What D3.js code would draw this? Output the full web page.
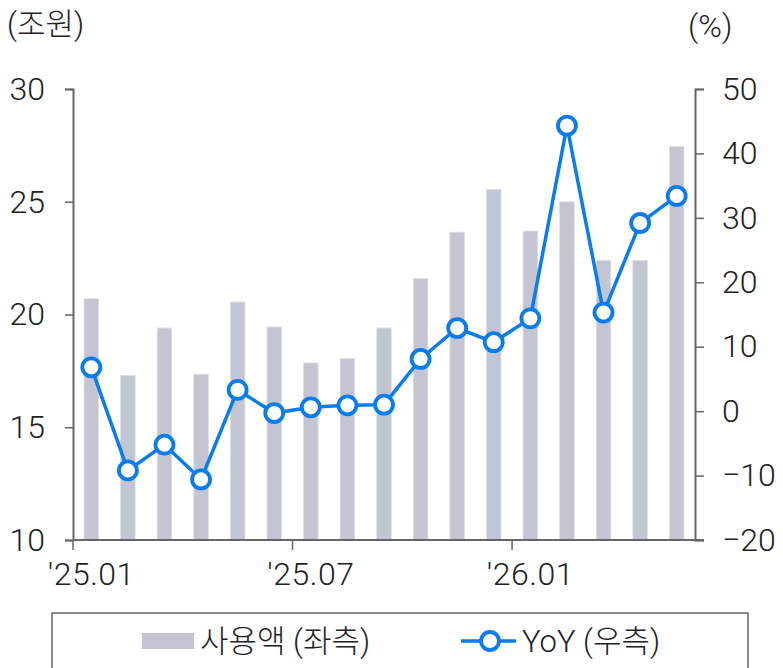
<!DOCTYPE html>
<html>
<head>
<meta charset="utf-8">
<script src="https://cdn.jsdelivr.net/npm/d3@7"></script>
<style>
  body { margin: 0; background: #fff; }
  svg text { font-family: Roboto, 'Noto Sans CJK KR', sans-serif; font-weight: 300; fill: #222; }
</style>
</head>
<body>
<svg width="783" height="668"></svg>
<script>
const months = ["'25.01","'25.02","'25.03","'25.04","'25.05","'25.06","'25.07","'25.08","'25.09",
                "'25.10","'25.11","'25.12","'26.01","'26.02","'26.03","'26.04","'26.05"];
const usage = [20.7, 17.3, 19.4, 17.35, 20.55, 19.45, 17.85, 18.05, 19.4,
               21.6, 23.65, 25.55, 23.7, 25.0, 22.4, 22.4, 27.45];
const yoy = [6.8, -9.2, -5.2, -10.6, 3.3, -0.3, 0.6, 0.9, 1.0,
             8.1, 12.9, 10.7, 14.4, 44.3, 15.3, 29.2, 33.4];
const xTickLabels = ["'25.01", "'25.07", "'26.01"];
const leftTicks = [10, 15, 20, 25, 30];
const rightTicks = [-20, -10, 0, 10, 20, 30, 40, 50];

const barColor = '#c3c6d2';
const lineColor = '#0b7cf0';
const axisColor = '#666';

const svg = d3.select('svg');
const margin = { left: 73, right: 88, top: 89, bottom: 128 };
const width = +svg.attr('width');
const height = +svg.attr('height');
const plotW = width - margin.left - margin.right;
const plotH = height - margin.top - margin.bottom;

const x = d3.scaleBand().domain(months).range([margin.left, margin.left + plotW]);
const yL = d3.scaleLinear().domain([10, 30]).range([margin.top + plotH, margin.top]);
const yR = d3.scaleLinear().domain([-20, 50]).range([margin.top + plotH, margin.top]);

const barW = 14.5;

// bars
svg.append('g').selectAll('rect').data(usage).enter().append('rect')
    .attr('x', (d, i) => x(months[i]) + x.bandwidth() / 2 - barW / 2)
    .attr('y', d => yL(d))
    .attr('width', barW)
    .attr('height', d => yL(10) - yL(d))
    .attr('fill', barColor)
    .attr('stroke', '#dcdee6')
    .attr('stroke-width', 0.8);

// axes
const axisLeft = d3.axisLeft(yL).tickValues(leftTicks).tickSize(8).tickPadding(20);
const gL = svg.append('g').attr('transform', `translate(${margin.left},0)`).call(axisLeft);

const axisRight = d3.axisRight(yR).tickValues(rightTicks).tickSize(9).tickPadding(18)
    .tickFormat(d => d < 0 ? '\u2212' + Math.abs(d) : d);
const gR = svg.append('g').attr('transform', `translate(${margin.left + plotW},0)`).call(axisRight);

const axisBottom = d3.axisBottom(x).tickValues(xTickLabels).tickSize(10).tickPadding(12);
const gB = svg.append('g').attr('transform', `translate(0,${margin.top + plotH})`).call(axisBottom);
gB.selectAll('.tick').attr('transform', d => `translate(${x(d)},0)`);
gB.selectAll('.tick text').attr('x', x.bandwidth() / 2);

[gL, gR, gB].forEach(g => {
    g.select('.domain').attr('stroke', axisColor).attr('stroke-width', 2);
    g.selectAll('.tick line').attr('stroke', axisColor).attr('stroke-width', 1.5);
    g.selectAll('.tick text').style('font-size', '32px').attr('fill', '#222');
});
gB.selectAll('.tick text').style('letter-spacing', '0.5px');
gB.select('.domain').attr('d', `M${margin.left},0H${margin.left + plotW + 9}`);

// line
const line = d3.line()
    .x((d, i) => x(months[i]) + x.bandwidth() / 2)
    .y(d => yR(d));
svg.append('path').datum(yoy)
    .attr('d', line)
    .attr('fill', 'none')
    .attr('stroke', lineColor)
    .attr('stroke-width', 3.5);
svg.append('g').selectAll('circle').data(yoy).enter().append('circle')
    .attr('cx', (d, i) => x(months[i]) + x.bandwidth() / 2)
    .attr('cy', d => yR(d))
    .attr('r', 9)
    .attr('fill', '#fff')
    .attr('stroke', lineColor)
    .attr('stroke-width', 3.8);

// unit labels
svg.append('text').attr('x', 7).attr('y', 35).style('font-size', '31px').text('(조원)');
svg.append('text').attr('x', 688).attr('y', 37).style('font-size', '32px').text('(%)');

// legend
const legend = svg.append('g');
legend.append('rect').attr('x', 52).attr('y', 613).attr('width', 696).attr('height', 70)
    .attr('fill', 'none').attr('stroke', axisColor).attr('stroke-width', 1.5);
legend.append('rect').attr('x', 142).attr('y', 633).attr('width', 52).attr('height', 16).attr('fill', barColor);
legend.append('text').attr('x', 200).attr('y', 652).style('font-size', '31px').text('사용액 (좌측)');
legend.append('line').attr('x1', 461).attr('x2', 516).attr('y1', 641).attr('y2', 641)
    .attr('stroke', lineColor).attr('stroke-width', 3.5);
legend.append('circle').attr('cx', 490).attr('cy', 641).attr('r', 9)
    .attr('fill', '#fff').attr('stroke', lineColor).attr('stroke-width', 3.8);
legend.append('text').attr('x', 522).attr('y', 652).style('font-size', '31px').text('YoY (우측)');
</script>
</body>
</html>
